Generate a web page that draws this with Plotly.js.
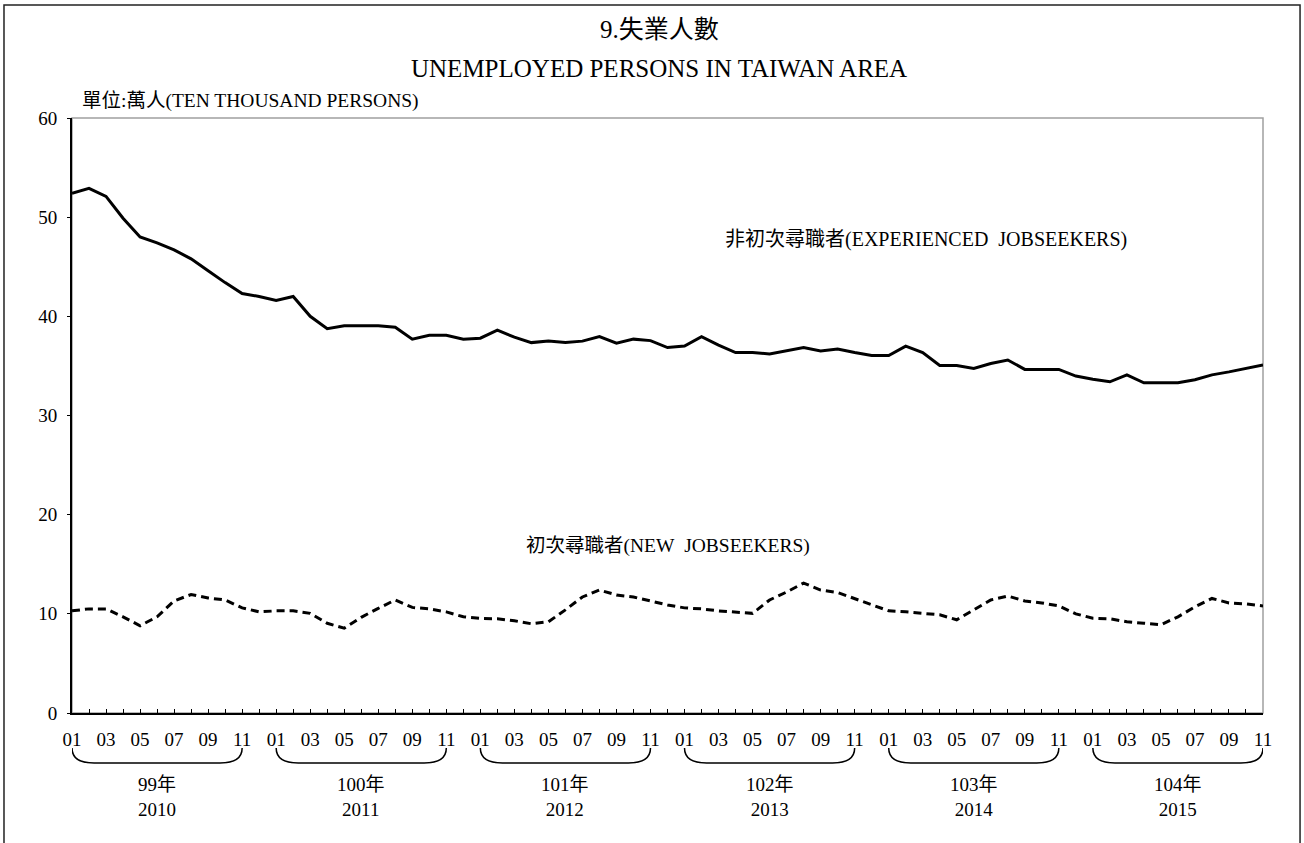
<!DOCTYPE html>
<html>
<head>
<meta charset="utf-8">
<script src="https://cdn.plot.ly/plotly-3.0.1.min.js"></script>
<style>
html,body{margin:0;padding:0;background:#fff;}
#chart{width:1304px;height:843px;}
</style>
</head>
<body>
<div id="chart"></div>
<script>
// ---- data ----
const years = [2010, 2011, 2012, 2013, 2014, 2015];
const rocYears = ['99年', '100年', '101年', '102年', '103年', '104年'];
const monthNums = ['01','02','03','04','05','06','07','08','09','10','11','12'];
const tickLabels = ['01','03','05','07','09','11'];
const lastMonthCount = 11; // data runs to 2015-11

const experienced = [
  52.4, 52.9, 52.1, 49.9, 48.0, 47.4, 46.7, 45.8, 44.6, 43.4, 42.3, 42.0,
  41.6, 42.0, 40.0, 38.75, 39.05, 39.05, 39.05, 38.9, 37.7, 38.1, 38.1, 37.7,
  37.8, 38.6, 37.9, 37.35, 37.5, 37.35, 37.5, 37.95, 37.3, 37.7, 37.55, 36.85,
  37.0, 37.95, 37.1, 36.35, 36.35, 36.2, 36.5, 36.85, 36.5, 36.7, 36.35, 36.05,
  36.05, 37.0, 36.35, 35.05, 35.05, 34.75, 35.25, 35.6, 34.65, 34.65, 34.65, 33.98,
  33.65, 33.4, 34.1, 33.3, 33.3, 33.3, 33.6, 34.1, 34.4, 34.75, 35.1
];
const newSeekers = [
  10.3, 10.5, 10.5, 9.7, 8.8, 9.7, 11.3, 11.95, 11.6, 11.4, 10.6, 10.2,
  10.3, 10.3, 10.05, 9.05, 8.55, 9.65, 10.55, 11.4, 10.65, 10.5, 10.2, 9.7,
  9.55, 9.5, 9.3, 9.0, 9.2, 10.4, 11.7, 12.4, 11.9, 11.7, 11.3, 10.9,
  10.6, 10.5, 10.3, 10.2, 10.05, 11.4, 12.2, 13.1, 12.4, 12.15, 11.55, 10.9,
  10.3, 10.2, 10.05, 9.9, 9.4, 10.4, 11.4, 11.8, 11.3, 11.1, 10.8, 10.0,
  9.55, 9.5, 9.2, 9.05, 8.9, 9.7, 10.7, 11.55, 11.1, 11.0, 10.8
];

// ---- categories ----
const categories = [];
const ticktext = [];
years.forEach((y, yi) => {
  const n = (yi === years.length - 1) ? lastMonthCount : 12;
  for (let m = 0; m < n; m++) {
    categories.push(y + '-' + monthNums[m]);
    ticktext.push(tickLabels.indexOf(monthNums[m]) >= 0 ? monthNums[m] : '');
  }
});

const FONT = "'Liberation Serif', 'Times New Roman', 'Noto Sans CJK TC', serif";

const traces = [
  {x: categories, y: experienced, type: 'scatter', mode: 'lines',
   line: {color: '#000', width: 3}, hoverinfo: 'skip'},
  {x: categories, y: newSeekers, type: 'scatter', mode: 'lines',
   line: {color: '#000', width: 3, dash: '8px,5px'}, hoverinfo: 'skip'}
];

// frame, braces and year labels
const shapes = [
  {type: 'rect', xref: 'paper', yref: 'paper', x0: 0, x1: 1, y0: 0, y1: 1,
   line: {color: '#a0a0a0', width: 1.5}, layer: 'below'},
  {type: 'rect', xref: 'paper', yref: 'paper', x0: -0.0571, x1: 1.0311, y0: -0.25, y1: 1.1899,
   line: {color: '#222', width: 1.5}, layer: 'below'}
];
const annotations = [];
const yTop = -0.0588, yBot = -0.084;
years.forEach((y, yi) => {
  const xs = yi * 12, xe = yi * 12 + 10;
  const c = 1.3;
  shapes.push({
    type: 'path', xref: 'x', yref: 'paper',
    path: `M ${xs},${yTop} Q ${xs},${yBot} ${xs + c},${yBot} L ${xe - c},${yBot} Q ${xe},${yBot} ${xe},${yTop}`,
    line: {color: '#000', width: 1.5}
  });
  annotations.push({
    xref: 'x', yref: 'paper', x: xs + 5, y: -0.142, yanchor: 'middle', xanchor: 'center',
    showarrow: false, text: rocYears[yi] + '<br>' + y,
    font: {family: FONT, size: 19, color: '#000'}
  });
});

annotations.push(
  {xref: 'paper', yref: 'paper', x: 0.4929, y: 1.148, xanchor: 'center', yanchor: 'middle',
   showarrow: false, text: '9.失業人數', font: {family: FONT, size: 25, color: '#000'}},
  {xref: 'paper', yref: 'paper', x: 0.4929, y: 1.084, xanchor: 'center', yanchor: 'middle',
   showarrow: false, text: 'UNEMPLOYED PERSONS IN TAIWAN AREA', font: {family: FONT, size: 25, color: '#000'}},
  {xref: 'paper', yref: 'paper', x: 0.0067, y: 1.0286, xanchor: 'left', yanchor: 'middle',
   showarrow: false, text: '單位:萬人(TEN THOUSAND PERSONS)', font: {family: FONT, size: 19.5, color: '#000'}},
  {xref: 'x', yref: 'y', x: 50.2, y: 47.7, xanchor: 'center', yanchor: 'middle',
   showarrow: false, text: '非初次尋職者(EXPERIENCED&nbsp; JOBSEEKERS)', font: {family: FONT, size: 20, color: '#000'}},
  {xref: 'x', yref: 'y', x: 35.0, y: 16.8, xanchor: 'center', yanchor: 'middle',
   showarrow: false, text: '初次尋職者(NEW&nbsp; JOBSEEKERS)', font: {family: FONT, size: 19.5, color: '#000'}}
);

const layout = {
  width: 1304, height: 843,
  margin: {l: 72, r: 41, t: 118, b: 130, pad: 0},
  paper_bgcolor: '#fff', plot_bgcolor: '#fff',
  showlegend: false,
  font: {family: FONT, size: 18, color: '#000'},
  xaxis: {
    type: 'category', range: [0, categories.length - 1],
    tickmode: 'array', tickvals: categories, ticktext: ticktext,
    ticks: 'inside', ticklen: 4, tickwidth: 1, tickcolor: '#000',
    ticklabelstandoff: 8,
    showline: true, linecolor: '#000', linewidth: 2,
    showgrid: false, zeroline: false, fixedrange: true,
    tickfont: {family: FONT, size: 19, color: '#000'}
  },
  yaxis: {
    range: [0, 60], dtick: 10, tick0: 0,
    ticks: 'outside', ticklen: 3, tickwidth: 1, tickcolor: '#000',
    ticklabelstandoff: 6,
    showline: true, linecolor: '#000', linewidth: 2,
    showgrid: false, zeroline: false, fixedrange: true,
    tickfont: {family: FONT, size: 19, color: '#000'}
  },
  shapes: shapes,
  annotations: annotations
};

Plotly.newPlot('chart', traces, layout, {displayModeBar: false, staticPlot: true});
</script>
</body>
</html>
